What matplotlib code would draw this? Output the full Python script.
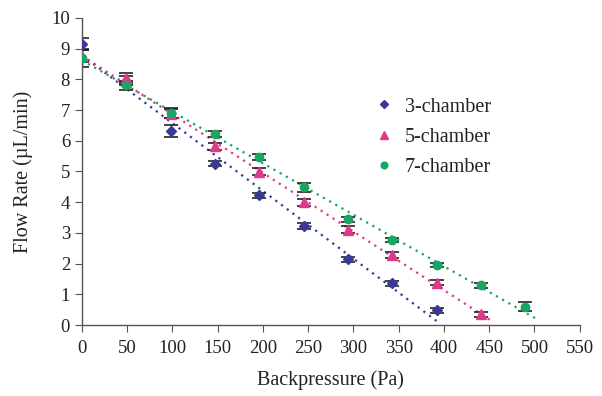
import numpy as np
import matplotlib
matplotlib.use("Agg")
import matplotlib.pyplot as plt

plt.rcParams['font.family'] = ['Liberation Serif', 'DejaVu Serif']

# backpressure steps (Pa)
x3 = [0, 49, 98, 147, 196, 245, 294, 343, 392]
x5 = [0, 49, 98, 147, 196, 245, 294, 343, 392, 441]
x7 = [0, 49, 98, 147, 196, 245, 294, 343, 392, 441, 490]

# flow rates (uL/min)
y3 = [9.15, 7.95, 6.32, 5.25, 4.22, 3.22, 2.14, 1.36, 0.48]
y5 = [8.75, 8.04, 6.88, 5.82, 4.99, 4.0, 3.11, 2.29, 1.38, 0.36]
y7 = [8.7, 7.8, 6.9, 6.23, 5.47, 4.48, 3.45, 2.76, 1.95, 1.3, 0.6]

e3 = [0.2, 0.15, 0.2, 0.08, 0.08, 0.1, 0.08, 0.08, 0.08]
e5 = [0.2, 0.15, 0.15, 0.12, 0.12, 0.12, 0.1, 0.1, 0.08, 0.08]
e7 = [0.3, 0.15, 0.15, 0.1, 0.1, 0.15, 0.08, 0.06, 0.06, 0.08, 0.15]

series = [
    (x3, y3, e3, '3-chamber', 'D', '#3a3a96', 5),
    (x5, y5, e5, '5-chamber', '^', '#e0398c', 6.5),
    (x7, y7, e7, '7-chamber', 'o', '#19a563', 6),
]

fig = plt.figure(figsize=(6.02, 3.96), dpi=100)
ax = fig.add_axes([0.136, 0.179, 0.827, 0.776])

for xs, ys, es, lab, mk, col, ms in series:
    xs = np.array(xs)
    ys = np.array(ys)
    # linear trendline, dotted, stops just above zero
    k, b = np.polyfit(xs, ys, 1)
    xend = min(xs[-1] + 15, (0.1 - b) / k)
    xx = np.linspace(0, xend, 50)
    ax.plot(xx, k * xx + b, linestyle=(0, (1, 2.2)), color=col, lw=1.6, zorder=1)
    ax.errorbar(xs, ys, yerr=es, fmt='none', ecolor='#222222', elinewidth=1,
                capsize=5, capthick=1.2, zorder=2)
    ax.plot(xs, ys, linestyle='none', marker=mk, color=col, markersize=ms,
            label=lab, zorder=3)

ax.set_xlim(0, 550)
ax.set_ylim(0, 10)
ax.set_xticks(np.arange(0, 551, 50))
ax.set_yticks(np.arange(0, 11, 1))
ax.spines['top'].set_visible(False)
ax.spines['right'].set_visible(False)
for s in ['left', 'bottom']:
    ax.spines[s].set_color('#555555')
    ax.spines[s].set_linewidth(1)
ax.tick_params(axis='both', direction='out', length=5, color='#555555',
               labelsize=13.5, labelcolor='#222222')
ax.tick_params(axis='x', pad=6)
ax.set_xlabel('Backpressure (Pa)', fontsize=14.5, color='#222222', labelpad=9)
ax.set_ylabel('Flow Rate (µL/min)', fontsize=14.5, color='#222222', labelpad=13)

ax.legend(loc='upper left', bbox_to_anchor=(0.555, 0.80), frameon=False,
          fontsize=14.5, handlelength=0.8, handletextpad=0.6, labelspacing=0.55,
          markerscale=0.8, labelcolor='#222222')

fig.savefig('out.png', dpi=100)
